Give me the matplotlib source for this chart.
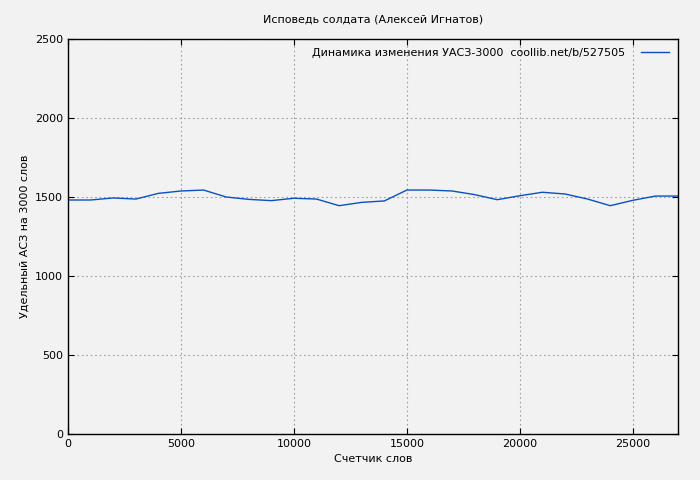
import matplotlib
matplotlib.use("Agg")
import matplotlib.pyplot as plt

words = list(range(0, 28000, 1000))
values = [1481, 1481, 1494, 1487, 1523, 1538, 1544, 1500, 1485, 1477,
          1492, 1487, 1445, 1466, 1475, 1544, 1544, 1538, 1515, 1483,
          1508, 1530, 1519, 1487, 1445, 1479, 1506, 1506]

fig = plt.figure(figsize=(7, 4.8), dpi=100)
fig.patch.set_facecolor("#f2f2f2")
ax = fig.add_axes([68 / 700, 1 - 434 / 480, 610 / 700, 395 / 480])
ax.set_facecolor("#f2f2f2")
ax.plot(words, values, color="#0a50c0", linewidth=1,
        label="Динамика изменения УАСЗ-3000  coollib.net/b/527505")
ax.set_xlim(0, 27000)
ax.set_ylim(0, 2500)
ax.set_xticks(range(0, 27000, 5000))
ax.set_yticks(range(0, 2501, 500))
ax.grid(True, color="#a0a0a0", linestyle=(0, (1.5, 2.5)), linewidth=0.8)
ax.tick_params(labelsize=8, direction="in", length=4, top=True, right=True)
for s in ax.spines.values():
    s.set_linewidth(1)
ax.set_xlabel("Счетчик слов", fontsize=8)
ax.set_ylabel("Удельный АСЗ на 3000 слов", fontsize=8)
ax.set_title("Исповедь солдата (Алексей Игнатов)", fontsize=8, pad=12)
leg = ax.legend(loc="upper right", fontsize=8, frameon=False, markerfirst=False,
                handlelength=2.5, handletextpad=1.5, borderaxespad=0.4)
fig.savefig("out.png", dpi=100, facecolor=fig.get_facecolor())
